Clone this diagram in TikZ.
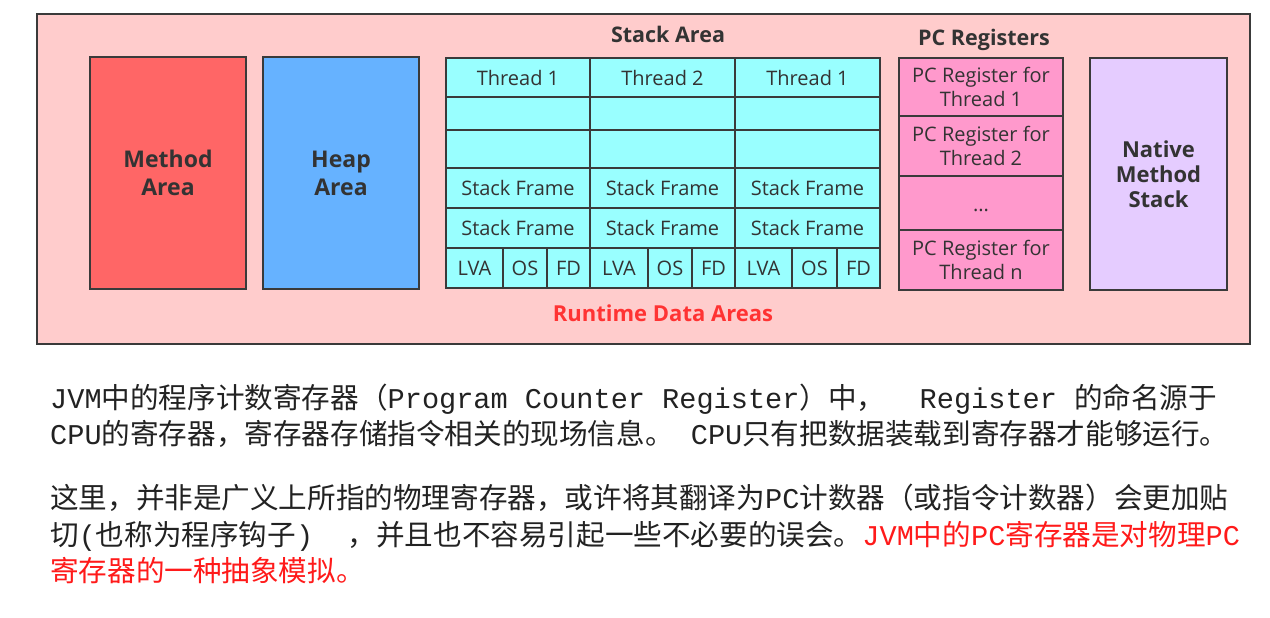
\documentclass[tikz,border=0pt]{standalone}
\usepackage{fontspec}
\setmainfont{Open Sans}
\newfontfamily\cjk{Noto Sans CJK SC}
\newfontfamily\mono{Liberation Mono}
\definecolor{linec}{HTML}{3A3A3A}
\definecolor{textc}{HTML}{333333}
\definecolor{outerc}{HTML}{FFCCCC}
\definecolor{methodc}{HTML}{FF6666}
\definecolor{heapc}{HTML}{66B2FF}
\definecolor{cyanc}{HTML}{99FFFF}
\definecolor{pinkc}{HTML}{FF99CC}
\definecolor{nativec}{HTML}{E5CCFF}
\definecolor{redc}{HTML}{FF3333}
\definecolor{bodyc}{HTML}{222222}
\definecolor{bodyred}{HTML}{FF1A1A}
\newcommand\cellbox[7]{\node[#7, minimum width={(#4-#2)*1pt}, minimum height={(#5-#3)*1pt}] (#1) at ({(#2+#4)/2},{(#3+#5)/2}) {#6};}
\tikzset{
  box/.style={draw=linec, line width=2.2pt, inner sep=0pt, outer sep=0pt, text=textc, align=center},
  outerbox/.style={box, fill=outerc},
  bigbox/.style={box, font=\bfseries\fontsize{23}{28}\selectfont},
  cell/.style={box, fill=cyanc, font=\fontsize{20}{24}\selectfont},
  pcr/.style={box, fill=pinkc, font=\fontsize{20}{24}\selectfont},
  title/.style={inner sep=0pt, text=textc, font=\bfseries\fontsize{21.5}{24}\selectfont},
  bodyline/.style={anchor=west, inner sep=0pt, text=bodyc, font=\fontsize{28.6}{30}\selectfont}
}
\begin{document}
\begin{tikzpicture}[x=1pt,y=-1pt]
\useasboundingbox[fill=white] (0,0) rectangle (1270,618);
% outer area
\cellbox{rda}{37}{14}{1250}{344}{}{outerbox}
\cellbox{method}{90}{57}{246}{289}{Method\\Area}{bigbox, fill=methodc}
\cellbox{heap}{263}{57}{419}{289}{Heap\\Area}{bigbox, fill=heapc}
\node[title] (stacktitle) at (668,34) {Stack Area};
% stack columns
\cellbox{t1}{446}{58}{590}{97}{Thread 1}{cell}
\cellbox{t2}{590}{58}{735}{97}{Thread 2}{cell}
\cellbox{t3}{735}{58}{880}{97}{Thread 1}{cell}
\cellbox{e1a}{446}{97}{590}{130}{}{cell}
\cellbox{e2a}{590}{97}{735}{130}{}{cell}
\cellbox{e3a}{735}{97}{880}{130}{}{cell}
\cellbox{e1b}{446}{130}{590}{168}{}{cell}
\cellbox{e2b}{590}{130}{735}{168}{}{cell}
\cellbox{e3b}{735}{130}{880}{168}{}{cell}
\cellbox{f1a}{446}{168}{590}{208}{Stack Frame}{cell}
\cellbox{f2a}{590}{168}{735}{208}{Stack Frame}{cell}
\cellbox{f3a}{735}{168}{880}{208}{Stack Frame}{cell}
\cellbox{f1b}{446}{208}{590}{248}{Stack Frame}{cell}
\cellbox{f2b}{590}{208}{735}{248}{Stack Frame}{cell}
\cellbox{f3b}{735}{208}{880}{248}{Stack Frame}{cell}
\cellbox{lva1}{446}{248}{503}{288}{LVA}{cell}
\cellbox{os1}{503}{248}{547}{288}{OS}{cell}
\cellbox{fd1}{547}{248}{590}{288}{FD}{cell}
\cellbox{lva2}{590}{248}{648}{288}{LVA}{cell}
\cellbox{os2}{648}{248}{692}{288}{OS}{cell}
\cellbox{fd2}{692}{248}{735}{288}{FD}{cell}
\cellbox{lva3}{735}{248}{792}{288}{LVA}{cell}
\cellbox{os3}{792}{248}{837}{288}{OS}{cell}
\cellbox{fd3}{837}{248}{880}{288}{FD}{cell}
% PC registers
\node[title] (pctitle) at (984,40) {PC Registers};
\cellbox{pc1}{899}{58}{1063}{116}{PC Register for\\Thread 1}{pcr}
\cellbox{pc2}{899}{116}{1063}{176}{PC Register for\\Thread 2}{pcr}
\cellbox{pcdots}{899}{176}{1063}{230}{}{pcr}
\cellbox{pcn}{899}{230}{1063}{290}{PC Register for\\Thread n}{pcr}
\node[inner sep=0pt, text=textc, font=\fontsize{20}{24}\selectfont] (dots) at (981,210) {...};
% native
\cellbox{native}{1090}{58}{1227}{290}{Native\\Method\\Stack}{bigbox, fill=nativec, font=\bfseries\fontsize{22}{25}\selectfont}
\node[inner sep=0pt, text=redc, font=\bfseries\fontsize{22}{24}\selectfont] (rdalabel) at (663,313) {Runtime Data Areas};
% body text
\node[bodyline] (l1) at (50,399) {\mono JVM\cjk 中的程序计数寄存器（\mono Program Counter Register\cjk ）中，\mono\ \ Register \cjk 的命名源于};
\node[bodyline] (l2) at (50,434) {\mono CPU\cjk 的寄存器，寄存器存储指令相关的现场信息。\mono\ CPU\cjk 只有把数据装载到寄存器才能够运行。};
\node[bodyline] (l3) at (50,498) {\cjk 这里，并非是广义上所指的物理寄存器，或许将其翻译为\mono PC\cjk 计数器（或指令计数器）会更加贴};
\node[bodyline] (l4) at (50,536) {\cjk 切\mono (\cjk 也称为程序钩子\mono )\ \ \cjk ，并且也不容易引起一些不必要的误会。\textcolor{bodyred}{\mono JVM\cjk 中的\mono PC\cjk 寄存器是对物理\mono PC}};
\node[bodyline, text=bodyred] (l5) at (50,571) {\cjk 寄存器的一种抽象模拟。};
\end{tikzpicture}
\end{document}
